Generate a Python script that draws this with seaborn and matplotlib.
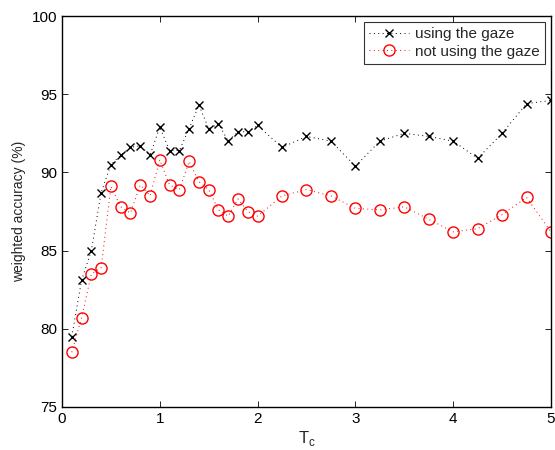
import numpy as np
import pandas as pd
import matplotlib
matplotlib.use("Agg")
import matplotlib.pyplot as plt
import seaborn as sns

# T_c values: 0.1 .. 2.0 in steps of 0.1, then 2.25 .. 5.0 in steps of 0.25
tc = [0.1, 0.2, 0.3, 0.4, 0.5, 0.6, 0.7, 0.8, 0.9, 1.0,
      1.1, 1.2, 1.3, 1.4, 1.5, 1.6, 1.7, 1.8, 1.9, 2.0,
      2.25, 2.5, 2.75, 3.0, 3.25, 3.5, 3.75, 4.0, 4.25, 4.5, 4.75, 5.0]

using_gaze = [79.5, 83.1, 85.0, 88.7, 90.5, 91.1, 91.6, 91.7, 91.1, 92.9,
              91.4, 91.4, 92.8, 94.3, 92.8, 93.1, 92.0, 92.6, 92.6, 93.0,
              91.6, 92.3, 92.0, 90.4, 92.0, 92.5, 92.3, 92.0, 90.9, 92.5, 94.4, 94.6]

not_using_gaze = [78.5, 80.7, 83.5, 83.9, 89.1, 87.8, 87.4, 89.2, 88.5, 90.8,
                  89.2, 88.9, 90.7, 89.4, 88.9, 87.6, 87.2, 88.3, 87.5, 87.2,
                  88.5, 88.9, 88.5, 87.7, 87.6, 87.8, 87.0, 86.2, 86.4, 87.3, 88.4, 86.2]

series_names = ["using the gaze", "not using the gaze"]

sns.set_style("ticks")
plt.rcParams["font.family"] = ["Liberation Sans", "DejaVu Sans"]
plt.rcParams["font.size"] = 10

fig = plt.figure(figsize=(5.55, 4.5), dpi=100)
ax = fig.add_axes([0.1117, 0.0956, 0.8811, 0.8688])

# using the gaze: black dotted line with x markers
sns.lineplot(x=tc, y=using_gaze, color="black", linestyle=(0, (1, 3.5)),
             linewidth=0.7, marker="x", markersize=5.5, markeredgewidth=1.0,
             markeredgecolor="black", label=series_names[0], ax=ax)

# not using the gaze: red dotted line with open circles
sns.lineplot(x=tc, y=not_using_gaze, color="red", linestyle=(0, (1, 3.5)),
             linewidth=0.7, marker="o", markersize=8, markeredgewidth=1.0,
             markerfacecolor="none", markeredgecolor="red",
             label=series_names[1], ax=ax)

ax.set_xlim(0, 5)
ax.set_ylim(75, 100)
ax.set_xticks([0, 1, 2, 3, 4, 5])
ax.set_yticks([75, 80, 85, 90, 95, 100])
ax.set_xlabel("T$_\\mathregular{c}$", fontsize=12, labelpad=2)
ax.set_ylabel("weighted accuracy (%)", fontsize=10)

for s in ax.spines.values():
    s.set_visible(True)
    s.set_linewidth(1.0)
    s.set_color("black")
ax.tick_params(direction="in", top=True, right=True, length=4, width=0.6,
               labelsize=11, colors="black")

leg = ax.legend(loc="upper right", fontsize=11, frameon=True, fancybox=False,
                borderpad=0.35, handlelength=2.6, handletextpad=0.4,
                labelspacing=0.2, borderaxespad=0.4)
leg.get_frame().set_edgecolor("black")
leg.get_frame().set_linewidth(0.8)

fig.savefig("out.png", dpi=100)
